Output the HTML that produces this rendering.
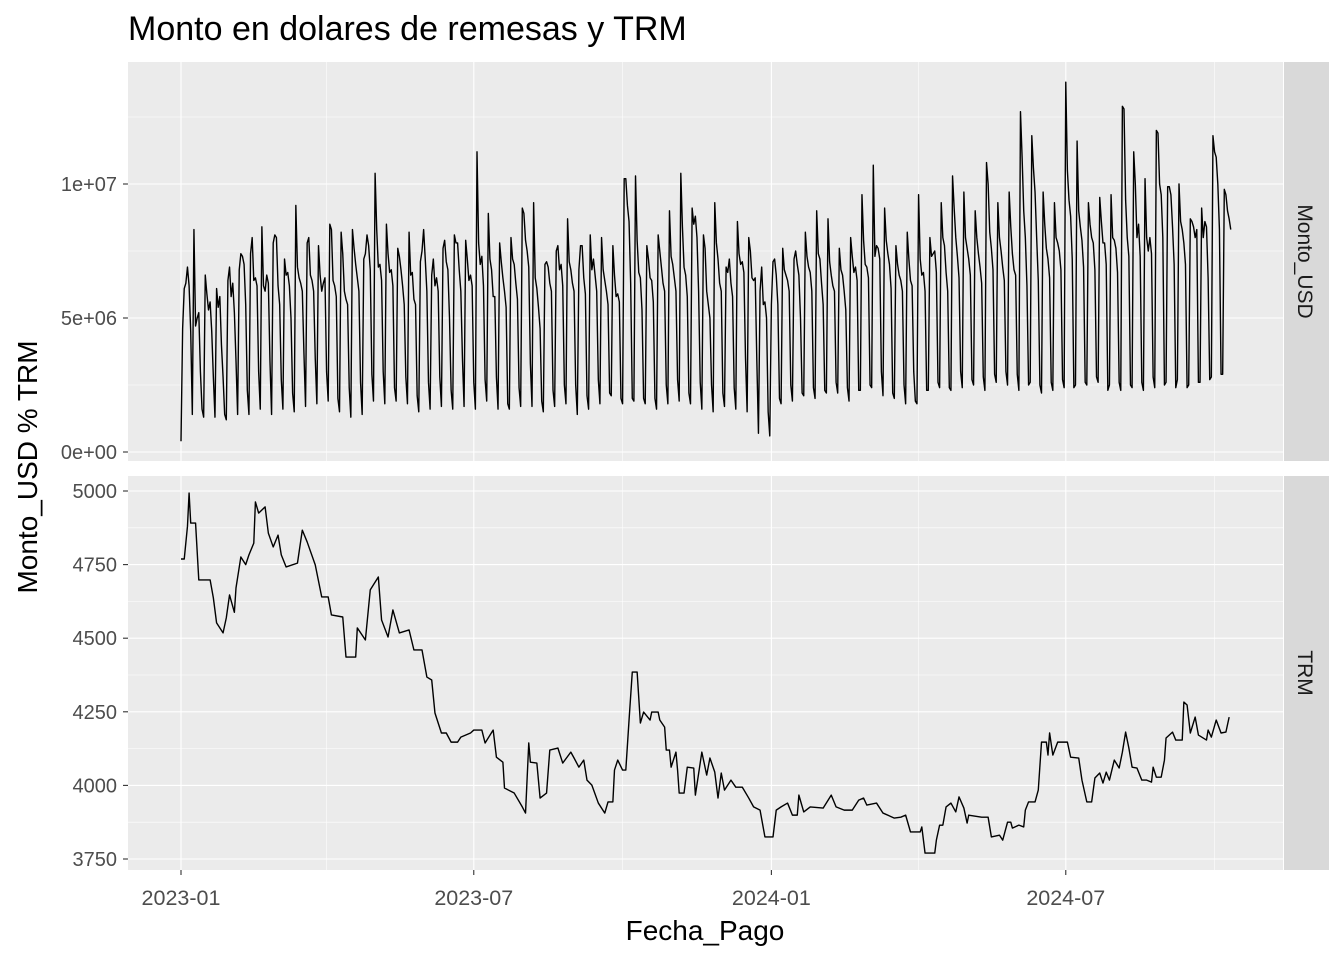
<!DOCTYPE html>
<html><head><meta charset="utf-8"><style>
html,body{margin:0;padding:0;background:#fff;}
svg{display:block;font-family:"Liberation Sans",Arial,sans-serif;}
</style></head><body>
<svg id="chart" width="1344" height="960" viewBox="0 0 1344 960">
<rect x="0" y="0" width="1344" height="960" fill="#fff"/>
<text x="128" y="40" font-size="34" fill="#000">Monto en dolares de remesas y TRM</text>
<g id="panels"></g>
<text x="705" y="940" font-size="28" fill="#000" text-anchor="middle">Fecha_Pago</text>
<text transform="translate(37,467) rotate(-90)" font-size="28" fill="#000" text-anchor="middle">Monto_USD % TRM</text>
</svg>
<script>
const xTickLabels = ["2023-01","2023-07","2024-01","2024-07"];
const xTickDays = [0,181,365,547];
const xMinorDays = [90,273,456,639];
const montoTickValues = [0,5,10];
const montoTickLabels = ["0e+00","5e+06","1e+07"];
const trmTickValues = [3750,4000,4250,4500,4750,5000];
const trmTickLabels = ["3750","4000","4250","4500","4750","5000"];
// Monto_USD daily values in millions, starting 2023-01-01
const montoUSD = [
0.4,4.6,6.1,6.3,6.9,6.2,4.5,
1.4,8.3,4.7,5.0,5.2,3.0,1.6,
1.3,6.6,5.9,5.3,5.6,4.5,2.8,
1.3,6.1,5.4,5.8,4.0,2.8,1.4,
1.2,6.4,6.9,5.8,6.3,5.2,3.4,
1.4,6.8,7.4,7.3,7.0,5.5,2.3,
1.4,7.4,8.0,6.4,6.5,6.2,3.0,
1.6,8.4,6.2,6.0,6.6,6.3,3.4,
1.4,7.8,8.1,8.0,6.2,5.5,2.7,
1.6,7.2,6.6,6.7,6.2,5.0,2.2,
1.5,9.2,6.9,6.5,6.3,6.0,3.7,
1.7,7.8,8.0,6.6,6.4,6.0,3.5,
1.8,7.7,6.6,6.0,6.3,6.5,3.0,
1.9,8.5,8.3,6.4,6.2,5.8,2.0,
1.5,8.2,7.4,6.0,5.7,5.5,2.4,
1.3,8.3,7.6,7.0,6.5,6.0,2.6,
1.4,7.2,7.4,8.1,7.7,6.8,2.9,
1.9,10.4,8.3,6.9,7.0,6.4,3.0,
1.8,8.5,7.4,6.7,6.8,6.2,2.4,
1.9,7.6,7.3,6.8,6.2,5.5,2.8,
1.8,8.2,6.6,6.7,5.7,5.5,2.1,
1.5,7.1,7.5,8.3,7.2,6.0,2.6,
1.6,6.6,7.2,6.2,6.5,6.0,2.8,
1.7,7.6,7.9,7.1,6.8,5.0,2.3,
1.6,8.1,7.8,7.8,6.8,6.0,3.5,
1.7,7.9,7.2,6.4,6.6,6.2,2.6,
1.6,11.2,7.8,7.0,7.3,6.2,2.7,
1.9,8.9,7.2,6.8,5.8,5.8,2.8,
1.6,7.8,7.1,6.5,6.0,5.4,1.8,
1.6,8.0,7.2,7.0,6.3,5.7,2.4,
1.7,9.1,8.9,7.9,7.5,6.9,3.3,
1.7,9.3,6.5,6.1,5.4,4.6,1.9,
1.5,7.0,7.1,6.9,6.3,6.0,2.3,
1.7,7.5,7.7,6.8,7.0,6.2,2.5,
1.8,8.7,7.1,6.8,6.3,6.0,2.5,
1.4,6.8,7.7,7.7,6.5,5.9,2.1,
1.6,8.1,6.8,7.2,6.6,6.0,2.7,
1.8,8.0,6.8,6.4,6.0,5.5,2.2,
2.1,7.7,6.6,5.8,5.9,5.6,2.0,
1.8,10.2,10.2,9.2,8.6,6.3,2.0,
1.9,10.3,7.9,6.7,6.5,5.3,2.0,
1.8,7.7,7.2,6.5,6.4,5.6,2.0,
1.6,8.1,7.5,6.9,6.3,6.0,2.5,
1.8,9.0,7.3,7.0,6.5,6.0,2.7,
1.9,10.4,8.4,6.9,6.6,5.8,2.2,
1.8,9.1,8.5,8.8,8.0,6.0,2.6,
1.6,8.1,7.6,6.0,5.5,5.0,2.5,
1.5,9.3,7.8,7.2,6.3,6.0,2.2,
1.7,6.9,6.7,7.2,6.3,5.8,2.4,
1.6,8.6,7.4,7.0,7.1,6.7,3.5,
1.5,8.0,7.5,6.5,6.4,6.5,3.4,
0.7,6.0,6.9,5.5,5.6,5.0,1.5,
0.6,5.5,7.1,7.2,6.6,5.5,2.0,
1.8,7.6,6.8,6.6,6.4,6.0,2.5,
1.9,7.2,7.5,7.0,6.6,5.0,2.2,
2.1,8.2,7.3,6.9,6.7,6.0,2.4,
2.0,9.0,7.4,7.2,6.3,5.5,2.3,
2.2,8.7,7.1,6.6,6.2,6.0,2.6,
2.2,7.6,6.8,6.6,6.0,5.3,2.4,
1.9,8.0,7.3,6.7,6.9,6.4,2.3,
2.3,9.6,7.9,7.0,6.9,6.5,2.5,
2.4,10.7,7.3,7.7,7.6,7.2,3.0,
2.1,9.1,7.9,7.4,7.0,6.1,2.2,
2.0,7.7,7.0,6.6,6.4,6.0,2.5,
1.8,8.2,7.2,6.4,6.2,3.0,1.9,
1.8,9.6,7.2,6.6,6.7,6.0,2.3,
2.3,8.0,7.3,7.4,7.5,6.7,2.6,
2.4,9.3,8.0,7.7,6.7,6.0,2.4,
2.3,10.3,9.1,8.0,7.3,6.5,3.0,
2.4,9.7,8.0,7.6,7.2,6.6,2.7,
2.5,9.0,8.0,7.4,6.9,6.3,2.8,
2.3,10.8,10.0,8.2,7.6,6.8,2.9,
2.6,9.3,8.0,7.5,6.9,6.4,3.0,
2.5,9.7,8.4,7.4,6.8,6.6,2.9,
2.3,12.7,11.0,9.0,8.0,6.2,2.5,
2.6,11.8,10.6,9.7,8.0,6.4,2.5,
2.2,9.7,8.5,7.6,7.2,6.5,2.6,
2.3,9.3,8.0,7.8,7.5,6.8,2.7,
2.4,13.8,10.5,9.4,8.8,7.2,2.4,
2.5,11.6,9.0,8.4,7.9,6.9,2.6,
2.5,9.3,8.5,8.0,7.8,6.8,2.8,
2.6,9.5,8.6,7.8,7.8,7.0,2.3,
2.5,9.6,8.0,7.9,7.6,6.7,2.6,
2.3,12.9,12.8,9.4,8.0,7.3,2.5,
2.4,11.2,10.0,8.0,8.5,7.3,2.6,
2.3,10.2,8.0,7.5,8.0,7.4,2.8,
2.4,12.0,11.9,10.0,9.6,8.0,2.5,
2.6,9.9,9.9,9.6,8.4,7.0,2.4,
2.7,10.0,8.6,8.3,7.8,7.0,2.4,
2.5,8.7,8.6,8.4,8.0,8.3,2.6,
2.6,9.1,8.0,8.6,8.4,6.5,2.7,
2.8,11.8,11.2,11.0,10.0,8.3,2.9,
2.9,9.8,9.6,9.0,8.7,8.3
];
// TRM: day offset from 2023-01-01 and value
const trmDays = [0,2,4,5,6,9,11,18,20,22,26,28,30,33,34,37,40,42,45,46,48,52,54,57,60,62,65,72,75,78,83,87,91,93,100,102,108,109,114,117,122,124,128,131,135,141,144,149,152,155,157,161,164,167,171,173,179,181,186,188,193,195,199,200,206,211,213,215,216,220,222,226,228,233,236,241,243,246,249,251,254,258,262,264,267,268,270,273,275,277,279,282,284,286,290,291,295,296,299,300,302,303,306,307,308,311,313,317,318,322,325,327,330,332,334,336,340,343,347,351,354,358,361,366,368,371,375,378,381,382,385,389,397,402,405,410,415,419,422,424,430,434,441,445,448,451,457,458,460,466,467,469,471,473,476,479,481,484,486,487,495,499,501,506,508,511,513,514,518,521,522,524,528,530,532,535,536,537,539,542,548,550,555,557,560,563,565,568,570,572,574,577,580,582,584,586,588,591,594,597,600,601,603,606,608,609,613,615,619,620,622,624,627,629,634,635,637,640,643,646,648];
const trmValues = [4769,4769,4880,4993,4891,4891,4698,4698,4637,4552,4518,4569,4647,4588,4671,4776,4750,4783,4823,4963,4925,4946,4857,4810,4850,4783,4742,4755,4867,4827,4749,4640,4640,4579,4572,4436,4436,4535,4494,4664,4708,4562,4504,4596,4518,4528,4460,4460,4368,4358,4246,4178,4178,4147,4147,4164,4178,4188,4188,4144,4188,4096,4079,3991,3974,3927,3906,4144,4079,4076,3957,3974,4120,4127,4076,4113,4093,4062,4086,4018,4001,3940,3906,3944,3944,4052,4086,4052,4052,4222,4385,4385,4212,4249,4222,4249,4249,4222,4198,4120,4120,4062,4113,4052,3974,3974,4062,4059,3967,4113,4035,4093,4045,3957,4042,3984,4018,3994,3994,3957,3927,3916,3825,3825,3916,3927,3940,3899,3899,3967,3910,3927,3923,3967,3927,3916,3916,3950,3957,3933,3940,3906,3889,3892,3899,3842,3842,3859,3770,3770,3814,3865,3865,3927,3940,3910,3961,3923,3872,3899,3892,3892,3825,3831,3814,3875,3875,3855,3865,3859,3916,3944,3944,3984,4147,4147,4103,4178,4103,4147,4147,4096,4093,4018,3944,3944,4025,4042,4008,4045,4018,4086,4059,4113,4181,4127,4062,4059,4018,4018,4011,4062,4028,4028,4086,4161,4181,4154,4154,4283,4273,4178,4232,4171,4154,4188,4164,4222,4178,4181,4232];

const PX0 = 128, PX1 = 1283;
const panelTop = {y0:62, y1:461};
const panelBot = {y0:476, y1:870};
function xScale(d){ return 181 + d*1.6175; }
function yMonto(v){ return 452 - v*26.8; }
function yTRM(v){ return 491 + (5000 - v)*0.2944; }

const NS = "http://www.w3.org/2000/svg";
const host = document.getElementById("panels");
function mk(tag, attrs, parent){
  const e = document.createElementNS(NS, tag);
  for (const k in attrs) e.setAttribute(k, attrs[k]);
  (parent||host).appendChild(e);
  return e;
}

function drawPanel(p, name, yfun, ticks, labels, minors, series, stripLabel){
  const grp = mk("g", {});
  
  
  const bg = mk("rect", {x:PX0, y:p.y0, width:PX1-PX0, height:p.y1-p.y0, fill:"#EBEBEB"}, grp);
  
  
  minors.forEach(v => {
    const l = mk("line", {x1:PX0, x2:PX1, y1:yfun(v), y2:yfun(v), stroke:"#fff", "stroke-width":0.55}, grp);
    
    
  });
  xMinorDays.forEach(d => {
    const l = mk("line", {x1:xScale(d), x2:xScale(d), y1:p.y0, y2:p.y1, stroke:"#fff", "stroke-width":0.55}, grp);
    
    
  });
  ticks.forEach((v,i) => {
    const y = yfun(v);
    const l = mk("line", {x1:PX0, x2:PX1, y1:y, y2:y, stroke:"#fff", "stroke-width":1.1}, grp);
    
    
    const t = mk("line", {x1:123, x2:128, y1:y, y2:y, stroke:"#333", "stroke-width":1.1}, grp);
    
    
    const tx = mk("text", {x:117, y:y+7, "font-size":20, fill:"#4D4D4D", "text-anchor":"end"}, grp);
    tx.textContent = labels[i];
    
    
  });
  xTickDays.forEach(d => {
    const l = mk("line", {x1:xScale(d), x2:xScale(d), y1:p.y0, y2:p.y1, stroke:"#fff", "stroke-width":1.1}, grp);
    
    
  });
  const path = mk("path", {d:series, fill:"none", stroke:"#000", "stroke-width":1.4, "stroke-linejoin":"round"}, grp);
  
  
  const st = mk("rect", {x:1284, y:p.y0, width:45, height:p.y1-p.y0, fill:"#D9D9D9"}, grp);
  
  
  const cy = (p.y0+p.y1)/2;
  const sl = mk("text", {transform:"translate(1298," + cy + ") rotate(90)", "font-size":21, fill:"#1A1A1A", "text-anchor":"middle"}, grp);
  sl.textContent = stripLabel;
  
  
}

let dM = "";
montoUSD.forEach((v,i) => { dM += (i ? "L" : "M") + xScale(i).toFixed(2) + "," + yMonto(v).toFixed(2); });
let dT = "";
trmValues.forEach((v,i) => { dT += (i ? "L" : "M") + xScale(trmDays[i]).toFixed(2) + "," + yTRM(v).toFixed(2); });

drawPanel(panelTop, "monto-usd", yMonto, montoTickValues, montoTickLabels, [2.5,7.5,12.5], dM, "Monto_USD");
drawPanel(panelBot, "trm", yTRM, trmTickValues, trmTickLabels, [3875,4125,4375,4625,4875], dT, "TRM");

xTickDays.forEach((d,i) => {
  const x = xScale(d);
  const t = mk("line", {x1:x, x2:x, y1:870, y2:875, stroke:"#333", "stroke-width":1.1});
  
  
  const tx = mk("text", {x:x, y:905, "font-size":21.5, fill:"#4D4D4D", "text-anchor":"middle"});
  tx.textContent = xTickLabels[i];
  
  
});
</script>
</body></html>
